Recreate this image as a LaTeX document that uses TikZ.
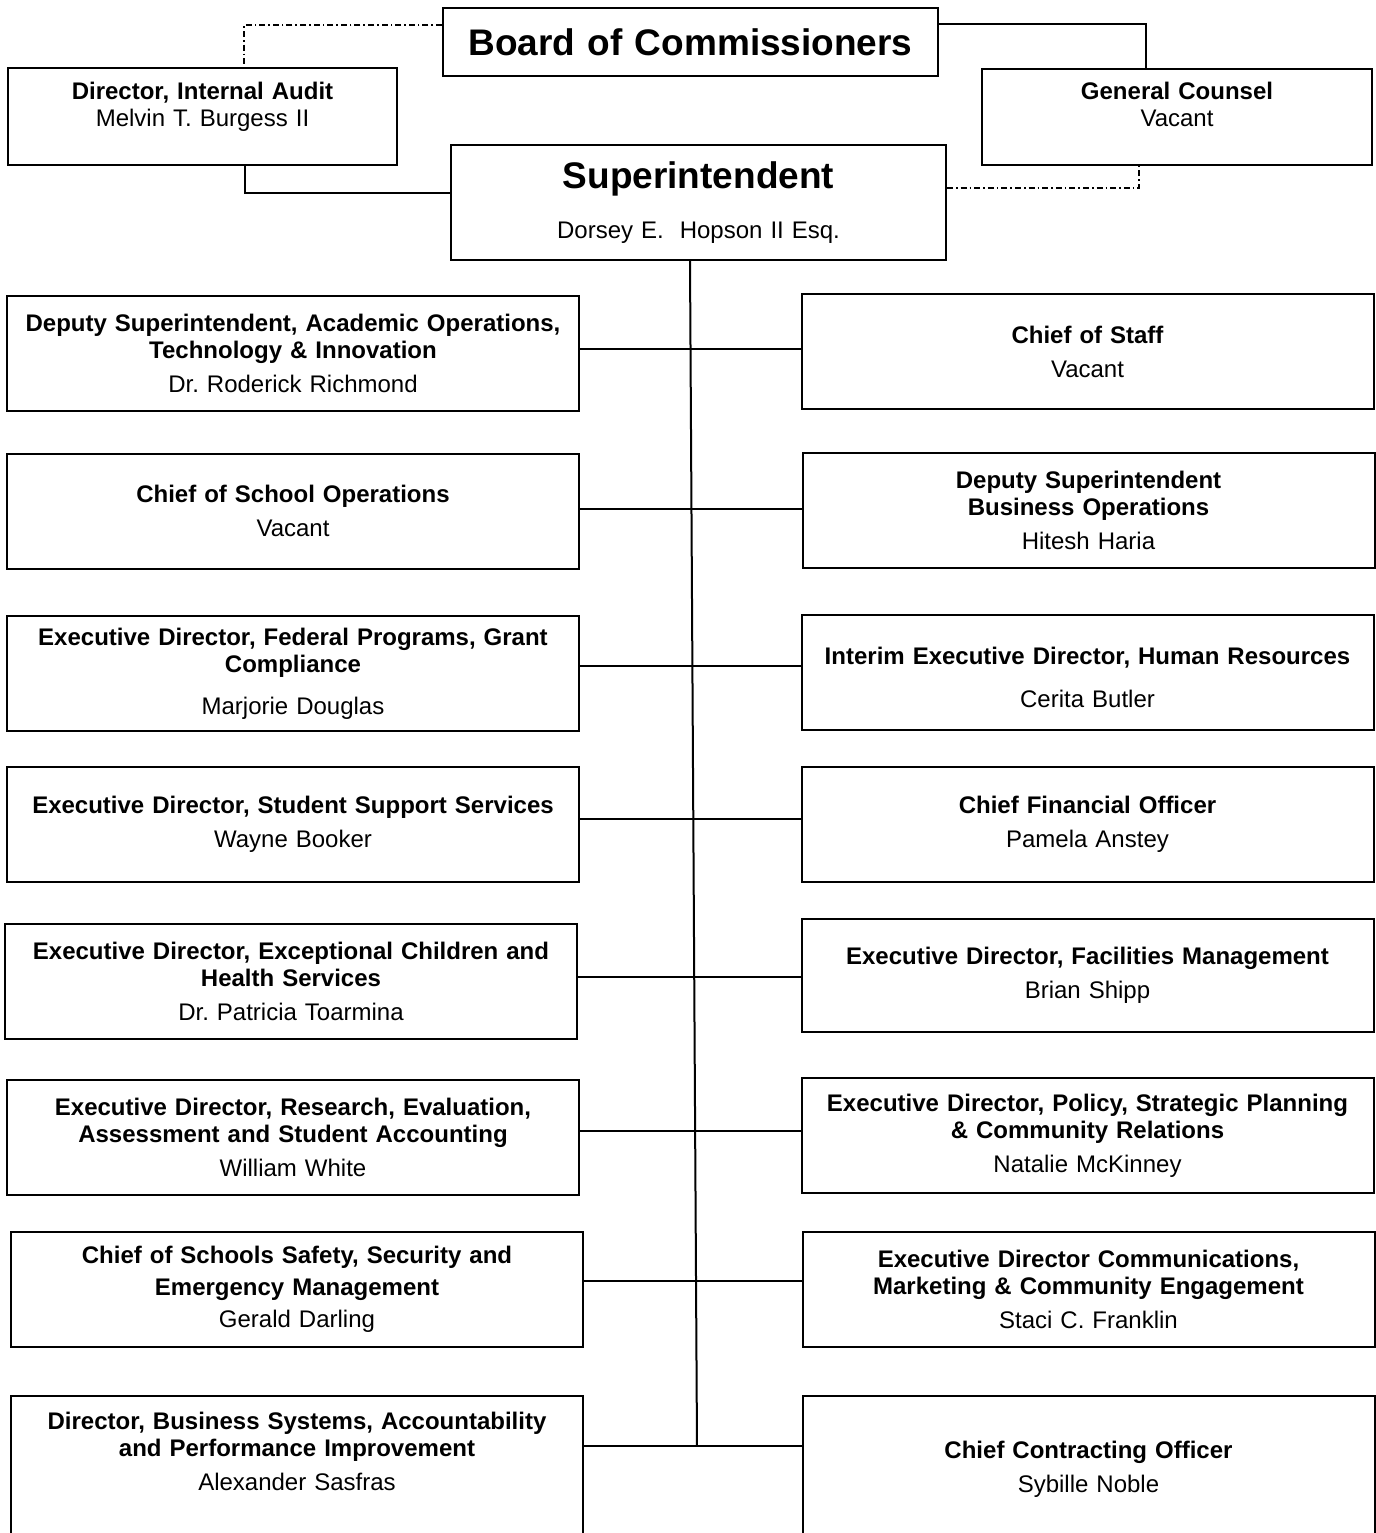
\documentclass[tikz,border=0pt]{standalone}
\usepackage{fontspec}
\setmainfont{Liberation Sans}
\frenchspacing
\tikzset{
  post/.style = {draw, line width=1pt, rectangle, inner sep=0pt, minimum width=286pt, minimum height=57.5pt, text width=280pt, align=center, font=\fontsize{12}{13.5}\selectfont},
  head/.style = {draw, line width=1pt, rectangle, inner sep=0pt, minimum width=247.5pt, text width=240pt, align=center, font=\fontsize{12}{13.5}\selectfont},
  posttext/.style = {inner sep=0pt, text width=280pt, align=center, font=\fontsize{12}{13.5}\selectfont},
  link/.style = {line width=1pt},
  dlink/.style = {line width=1pt, dash pattern=on 3pt off 1.5pt on 0.8pt off 1.5pt}
}
\newcommand{\bigtitle}[1]{{\fontsize{18.5}{22}\selectfont\bfseries #1}}
\begin{document}
\begin{tikzpicture}[x=0.5pt, y=-0.5pt]
  \path[use as bounding box, clip] (0,0) rectangle (1376,1533);
  % top of the chart
  \node[head, minimum height=34pt, font=\fontsize{18.5}{22}\selectfont\bfseries] (board) at (690.5,42) {Board of Commissioners};
  \node[post, minimum width=194.5pt, minimum height=48.5pt, text width=190pt] (audit) at (202.5,116.5) {{\bfseries Director, Internal Audit}\\Melvin T. Burgess II\\[-1pt]\mbox{}};
  \node[post, minimum width=195pt, minimum height=48pt, text width=190pt] (counsel) at (1177,117) {{\bfseries General Counsel}\\Vacant\\[-1pt]\mbox{}};
  \node[head, minimum height=57.5pt] (supt) at (698.5,202.5) {\bigtitle{Superintendent}\\[11.5pt]Dorsey E.\ \ Hopson II Esq.};
  % left column
  \node[post] (l1) at (293,353.5) {{\bfseries Deputy Superintendent, Academic Operations,\\Technology \& Innovation}\\[3.5pt]Dr. Roderick Richmond};
  \node[post] (l2) at (293,511) {{\bfseries Chief of School Operations}\\[3.5pt]Vacant};
  \node[post] (l3) at (293,673.5) {{\bfseries Executive Director, Federal Programs, Grant\\Compliance}\\[7.5pt]Marjorie Douglas};
  \node[post] (l4) at (293,824) {{\bfseries Executive Director, Student Support Services}\\[3.5pt]Wayne Booker};
  \node[post] (l5) at (291,981) {{\bfseries Executive Director, Exceptional Children and\\Health Services}\\[3.5pt]Dr. Patricia Toarmina};
  \node[post] (l6) at (293,1137) {{\bfseries Executive Director, Research, Evaluation,\\Assessment and Student Accounting}\\[3.5pt]William White};
  \node[post] (l7) at (297,1289) {{\bfseries Chief of Schools Safety, Security and\\[2.5pt]Emergency Management}\\[2.5pt]Gerald Darling};
  \node[post, minimum height=102pt] (l8) at (297,1498) {};
  \node[posttext] (l8t) at (297,1451) {{\bfseries Director, Business Systems, Accountability\\and Performance Improvement}\\[3.5pt]Alexander Sasfras};
  % right column
  \node[post] (r1) at (1087.5,351.5) {{\bfseries Chief of Staff}\\[3.5pt]Vacant};
  \node[post] (r2) at (1088.5,510.5) {{\bfseries Deputy Superintendent\\Business Operations}\\[3.5pt]Hitesh Haria};
  \node[post] (r3) at (1087.5,672.5) {\mbox{}\\{\bfseries Interim Executive Director, Human Resources}\\[8pt]Cerita Butler};
  \node[post] (r4) at (1087.5,824) {{\bfseries Chief Financial Officer}\\[3.5pt]Pamela Anstey};
  \node[post, minimum height=56.5pt] (r5) at (1087.5,975.5) {{\bfseries Executive Director, Facilities Management}\\[3.5pt]Brian Shipp};
  \node[post] (r6) at (1087.5,1135.5) {{\bfseries Executive Director, Policy, Strategic Planning\\\& Community Relations}\\[3.5pt]Natalie McKinney};
  \node[post] (r7) at (1088.5,1289) {{\bfseries Executive Director Communications,\\Marketing \& Community Engagement}\\[3.5pt]Staci C. Franklin};
  \node[post, minimum height=102pt] (r8) at (1088.5,1498) {};
  \node[posttext] (r8t) at (1088.5,1469) {{\bfseries Chief Contracting Officer}\\[3.5pt]Sybille Noble};
  % connectors
  \draw[dlink] (board.west |- 0,25) -| (audit.north -| 244,0);
  \draw[link] (board.east |- 0,24) -| (counsel.north -| 1146,0);
  \draw[link] (audit.south -| 245,0) |- (supt.west |- 0,193);
  \draw[dlink] (supt.east |- 0,188) -| (counsel.south -| 1139,0);
  \coordinate (s1) at (697,1446);
  \draw[link] (supt.south -| 690,0) -- (s1);
  \draw[link] (l1.east |- 0,349) -- (r1.west |- 0,349);
  \draw[link] (l2.east |- 0,509) -- (r2.west |- 0,509);
  \draw[link] (l3.east |- 0,666) -- (r3.west |- 0,666);
  \draw[link] (l4.east |- 0,819) -- (r4.west |- 0,819);
  \draw[link] (l5.east |- 0,977) -- (r5.west |- 0,977);
  \draw[link] (l6.east |- 0,1131) -- (r6.west |- 0,1131);
  \draw[link] (l7.east |- 0,1281) -- (r7.west |- 0,1281);
  \draw[link] (l8.east |- s1) -- (r8.west |- s1);
\end{tikzpicture}
\end{document}
